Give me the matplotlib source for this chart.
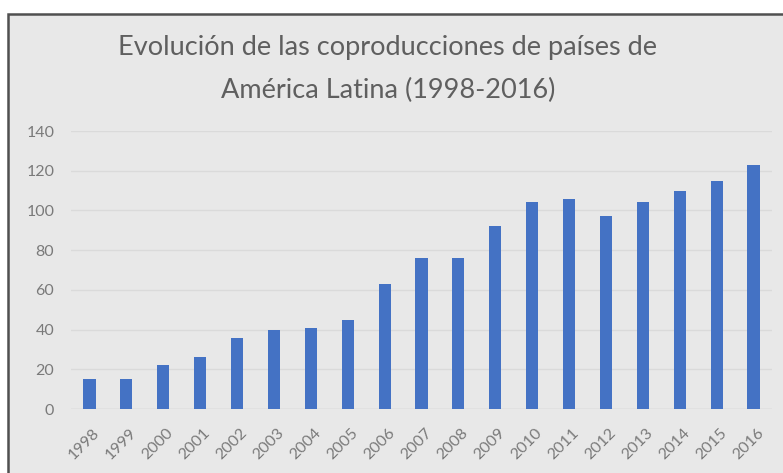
import numpy as np
import matplotlib.pyplot as plt
from matplotlib.patches import Rectangle

plt.rcParams['font.family'] = ['Lato', 'DejaVu Sans']

# Data
years = ['1998', '1999', '2000', '2001', '2002', '2003', '2004', '2005', '2006',
         '2007', '2008', '2009', '2010', '2011', '2012', '2013', '2014', '2015', '2016']
coproducciones = [15, 15, 22, 26, 36, 40, 41, 45, 63,
                  76, 76, 92, 104, 106, 97, 104, 110, 115, 123]
y_ticks = [0, 20, 40, 60, 80, 100, 120, 140]

bg = '#e8e8e8'
title_gray = '#5f5f5f'
tick_gray = '#7a7a7a'

fig = plt.figure(figsize=(7.83, 4.73), dpi=100)
fig.patch.set_facecolor('white')

# chart frame (cropped screenshot look)
frame = Rectangle((8 / 783, -0.02), 1.05, 1 - 14 / 473 + 0.02, transform=fig.transFigure,
                  facecolor=bg, edgecolor='#505050', linewidth=1.8, zorder=-1)
fig.patches.append(frame)

ax = fig.add_axes([71 / 783, (473 - 409) / 473, 701 / 783, 278 / 473])
ax.set_facecolor(bg)

x = np.arange(len(years))
ax.bar(x, coproducciones, width=0.33, color='#4472C4', zorder=3)

ax.set_xlim(-0.5, len(years) - 0.5)
ax.set_ylim(0, 140)
ax.set_yticks(y_ticks)
ax.set_yticklabels([str(t) for t in y_ticks], fontsize=11.5, color=tick_gray)
ax.set_xticks(x + 0.08)
ax.set_xticklabels(years, rotation=45, ha='right', rotation_mode='anchor',
                   fontsize=11.5, color=tick_gray)
ax.tick_params(axis='y', length=0, pad=12)
ax.tick_params(axis='x', length=0, pad=12)

ax.grid(axis='y', color='#dadada', linewidth=1, zorder=0)
for s in ax.spines.values():
    s.set_visible(False)
ax.axhline(0, color='#d2d2d2', linewidth=1, zorder=2)

fig.text(388 / 783, 1 - 48 / 473, 'Evolución de las coproducciones de países de',
         ha='center', va='center', fontsize=19.5, color=title_gray)
fig.text(388 / 783, 1 - 90 / 473, 'América Latina (1998-2016)',
         ha='center', va='center', fontsize=19.5, color=title_gray)

plt.savefig('out.png', dpi=100, facecolor=fig.get_facecolor())
